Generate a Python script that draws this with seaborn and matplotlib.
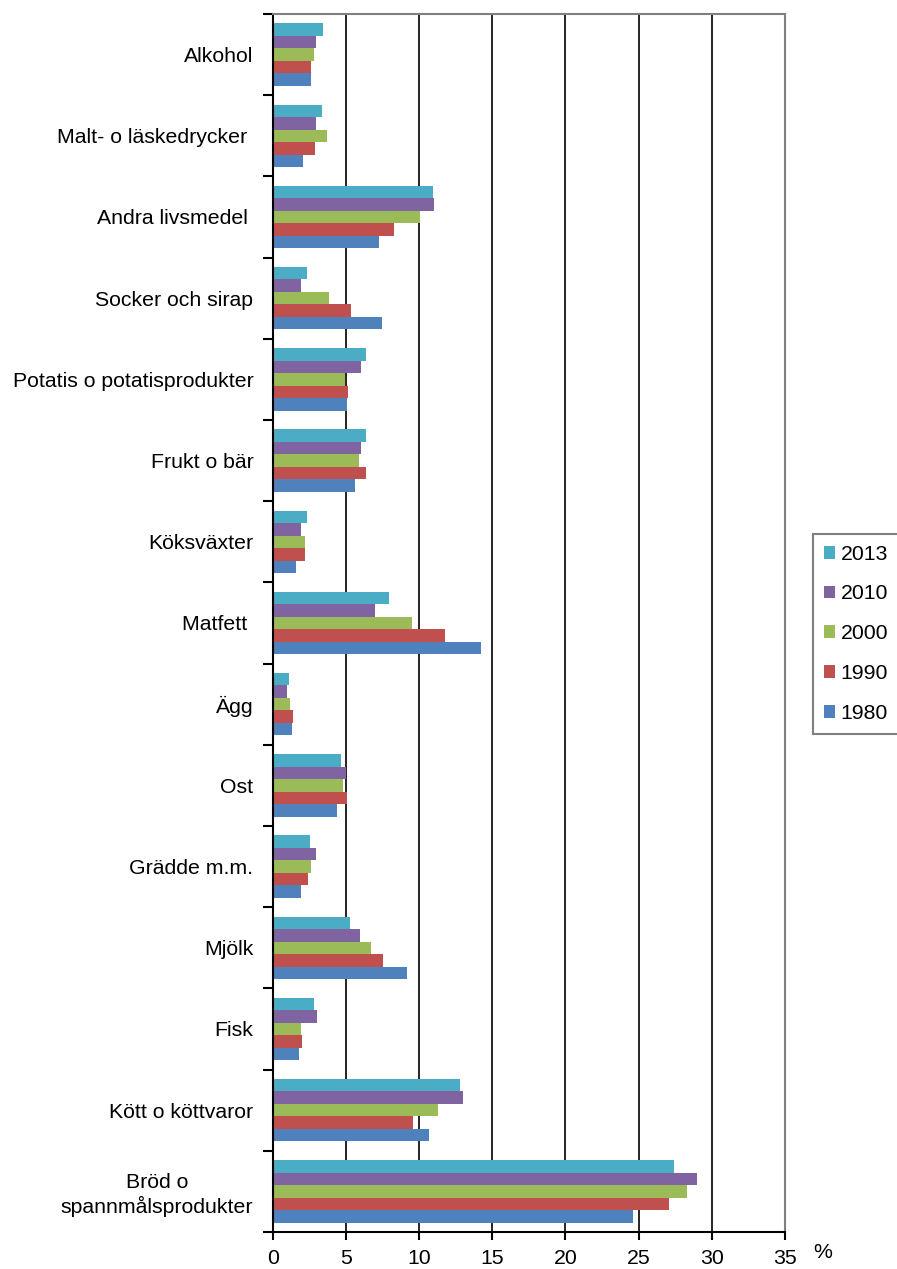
import matplotlib
matplotlib.use("Agg")
import matplotlib.pyplot as plt
import seaborn as sns
import pandas as pd
import numpy as np
from matplotlib.patches import Patch

# food groups, top to bottom
categories = ["Alkohol", "Malt- o läskedrycker ", "Andra livsmedel ", "Socker och sirap",
              "Potatis o potatisprodukter", "Frukt o bär", "Köksväxter", "Matfett ", "Ägg",
              "Ost", "Grädde m.m.", "Mjölk", "Fisk", "Kött o köttvaror",
              "Bröd o\nspannmålsprodukter"]
years = ["2013", "2010", "2000", "1990", "1980"]

# share (%) per year
share_2013 = [3.47, 3.40, 10.96, 2.31, 6.37, 6.39, 2.33, 7.92, 1.14, 4.68, 2.56, 5.25, 2.83, 12.8, 27.4]
share_2010 = [2.97, 2.97, 11.03, 1.96, 6.00, 6.00, 1.96, 7.01, 0.96, 5.00, 2.97, 5.98, 3.00, 13.0, 29.0]
share_2000 = [2.85, 3.70, 10.05, 3.84, 4.93, 5.91, 2.24, 9.52, 1.19, 4.77, 2.60, 6.71, 1.90, 11.3, 28.3]
share_1990 = [2.65, 2.90, 8.29, 5.34, 5.14, 6.35, 2.19, 11.8, 1.37, 5.07, 2.44, 7.53, 2.00, 9.6, 27.1]
share_1980 = [2.63, 2.08, 7.24, 7.47, 5.07, 5.59, 1.62, 14.2, 1.32, 4.38, 1.96, 9.16, 1.78, 10.7, 24.6]

colors = ["#4BACC6", "#8064A2", "#9BBB59", "#C0504D", "#4F81BD"]

values = [share_2013, share_2010, share_2000, share_1990, share_1980]
rows = []
for year, vals in zip(years, values):
    for cat, v in zip(categories, vals):
        rows.append({"kategori": cat, "år": year, "andel": v})
df = pd.DataFrame(rows)

sns.set_style("white")
plt.rcParams["font.family"] = ["Liberation Sans", "DejaVu Sans"]
plt.rcParams["text.color"] = "black"
plt.rcParams["xtick.color"] = "black"
plt.rcParams["ytick.color"] = "black"
plt.rcParams["xtick.labelcolor"] = "black"
plt.rcParams["ytick.labelcolor"] = "black"

fig = plt.figure(figsize=(8.97, 12.69), dpi=100)
ax = fig.add_axes([272.7 / 897, 1 - 1232 / 1269, (785 - 272.7) / 897, (1232 - 14) / 1269])

sns.barplot(data=df, y="kategori", x="andel", hue="år", order=categories,
            hue_order=years, palette=colors, orient="h", width=0.77,
            saturation=1, linewidth=0, legend=False, ax=ax)

ax.set_xlim(0, 35)
ax.set_ylim(len(categories) - 0.5, -0.5)
ax.set_xticks(range(0, 36, 5))
ax.set_xlabel("")
ax.set_ylabel("")

ax.set_axisbelow(True)
ax.xaxis.grid(True, color="black", linewidth=1.2)
ax.yaxis.grid(False)

# category boundaries get the tick marks, labels sit at centres
ax.set_yticks(np.arange(-0.5, len(categories), 1.0), minor=True)
ax.tick_params(axis="y", which="major", length=0, pad=14, labelsize=15.3, labelcolor="black")
ax.tick_params(axis="y", which="minor", length=7, width=1.5, color="black", direction="out", left=True)
ax.tick_params(axis="x", which="major", length=6, width=1.5, color="black", direction="out",
               bottom=True, pad=6, labelsize=15.3, labelcolor="black")
for lab in ax.get_yticklabels():
    lab.set_multialignment("center")

for side in ["left", "bottom"]:
    ax.spines[side].set_color("black")
    ax.spines[side].set_linewidth(1.5)
for side in ["top", "right"]:
    ax.spines[side].set_color("#808080")
    ax.spines[side].set_linewidth(1.5)

fig.text(823 / 897, 1 - 1253 / 1269, "%", ha="center", va="center", fontsize=15.3, color="black")

handles = [Patch(facecolor=c, edgecolor="none") for c in colors]
leg = fig.legend(handles, years, loc="upper left", bbox_to_anchor=(813 / 897, 1 - 534 / 1269),
                 borderaxespad=0, fancybox=False, edgecolor="#808080", framealpha=1,
                 handlelength=0.55, handleheight=0.55, handletextpad=0.25,
                 labelspacing=0.98, borderpad=0.5, fontsize=15.3, labelcolor="black")
leg.get_frame().set_linewidth(1.5)

fig.savefig("out.png", dpi=100)
